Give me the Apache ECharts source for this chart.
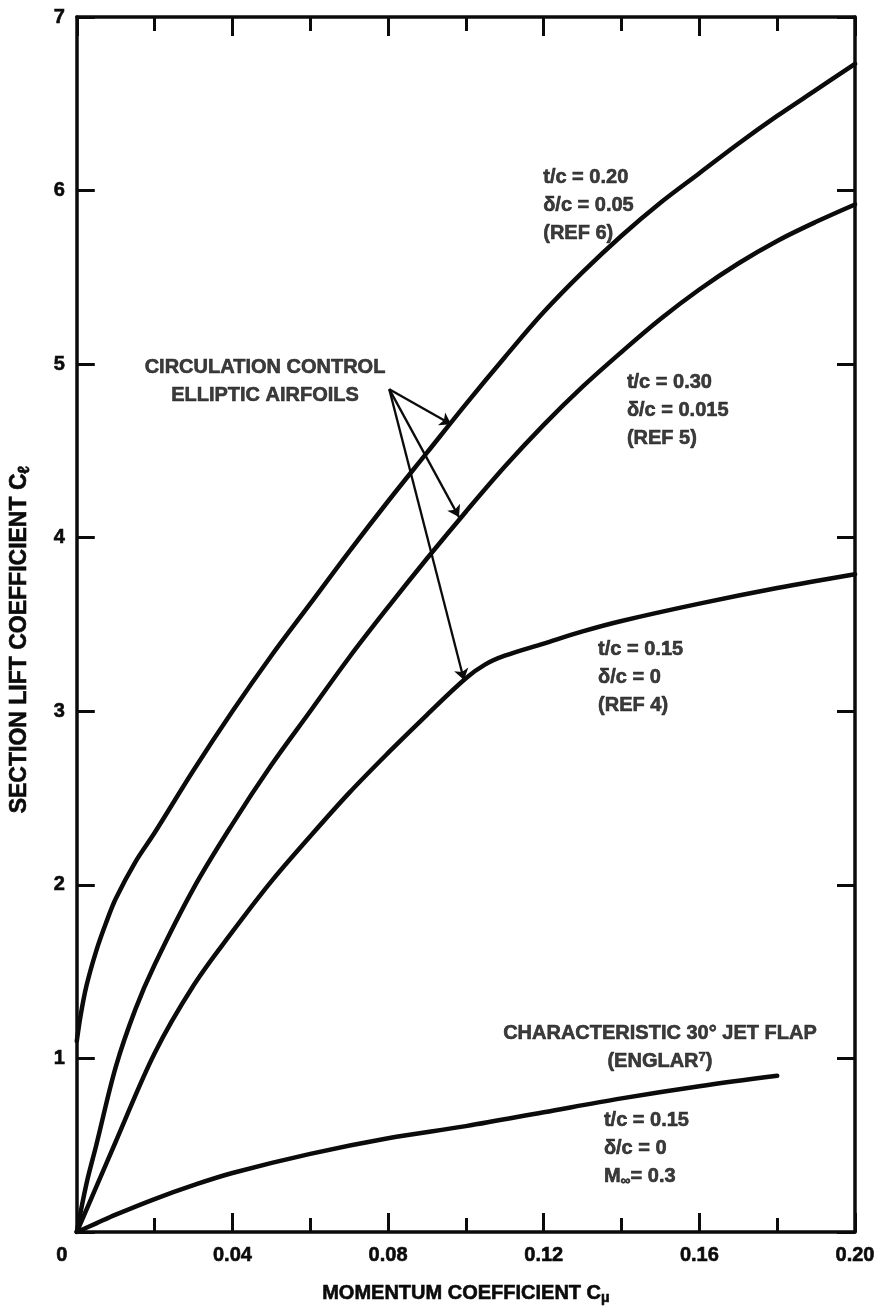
<!DOCTYPE html>
<html>
<head>
<meta charset="utf-8">
<script src="https://cdn.jsdelivr.net/npm/echarts@6/dist/echarts.min.js"></script>
<style>
  html, body { margin: 0; padding: 0; background: #fff; }
  #chart { width: 881px; height: 1314px; }
</style>
</head>
<body>
<div id="chart"></div>
<script>
// Section lift coefficient versus momentum coefficient

// t/c = 0.20, delta/c = 0.05 (REF 6)
const ref6Cmu = [0, 0.001, 0.0025, 0.005, 0.0075, 0.01, 0.015, 0.02, 0.03, 0.04, 0.05, 0.06, 0.07, 0.08, 0.09, 0.10, 0.11, 0.12, 0.13, 0.14, 0.15, 0.16, 0.17, 0.18, 0.19, 0.20];
const ref6Cl  = [1.10, 1.25, 1.42, 1.62, 1.78, 1.92, 2.13, 2.30, 2.66, 3.00, 3.32, 3.62, 3.92, 4.21, 4.49, 4.77, 5.04, 5.30, 5.53, 5.74, 5.93, 6.10, 6.27, 6.43, 6.58, 6.73];

// t/c = 0.30, delta/c = 0.015 (REF 5)
const ref5Cmu = [0, 0.0025, 0.005, 0.01, 0.015, 0.02, 0.03, 0.04, 0.05, 0.06, 0.07, 0.08, 0.09, 0.10, 0.11, 0.12, 0.13, 0.14, 0.15, 0.16, 0.17, 0.18, 0.19, 0.20];
const ref5Cl  = [0, 0.28, 0.50, 0.95, 1.28, 1.54, 1.98, 2.35, 2.69, 3.00, 3.31, 3.60, 3.88, 4.15, 4.41, 4.65, 4.87, 5.07, 5.26, 5.43, 5.58, 5.71, 5.82, 5.92];

// t/c = 0.15, delta/c = 0 (REF 4)
const ref4Cmu = [0, 0.005, 0.01, 0.02, 0.03, 0.04, 0.05, 0.06, 0.07, 0.08, 0.09, 0.10, 0.105, 0.11, 0.12, 0.13, 0.14, 0.16, 0.18, 0.20];
const ref4Cl  = [0, 0.26, 0.52, 1.03, 1.42, 1.73, 2.02, 2.28, 2.53, 2.76, 2.98, 3.19, 3.27, 3.32, 3.39, 3.46, 3.52, 3.62, 3.71, 3.79];

// Characteristic 30 deg jet flap (Englar)
const jetCmu = [0, 0.005, 0.01, 0.02, 0.03, 0.04, 0.06, 0.08, 0.10, 0.12, 0.14, 0.16, 0.18];
const jetCl  = [0, 0.05, 0.10, 0.19, 0.27, 0.34, 0.45, 0.54, 0.61, 0.69, 0.77, 0.84, 0.90];

// Axis ranges and tick steps
const cmuRange = [0, 0.20];
const cmuStep = 0.04;
const clRange = [0, 7];
const clStep = 1;

// Leader arrows: common origin and the curve points they indicate
const arrowOrigin = [0.0803, 4.856];
const arrowTargets = [[0.0962, 4.654], [0.0982, 4.12], [0.0995, 3.18]];

// Text notes anchored in data coordinates
const notes = [
  { at: [0.0485, 4.896], text: 'CIRCULATION CONTROL\nELLIPTIC AIRFOILS', align: 'center' },
  { at: [0.1200, 5.910], text: 't/c = 0.20\nδ/c = 0.05\n(REF 6)', align: 'left' },
  { at: [0.1415, 4.730], text: 't/c = 0.30\nδ/c = 0.015\n(REF 5)', align: 'left' },
  { at: [0.1341, 3.190], text: 't/c = 0.15\nδ/c = 0\n(REF 4)', align: 'left' },
  { at: [0.1500, 1.060], text: 'CHARACTERISTIC 30° JET FLAP\n(ENGLAR{sup|7})', align: 'center' },
  { at: [0.1356, 0.478], text: 't/c = 0.15\nδ/c = 0\nM{sub|∞}= 0.3', align: 'left' }
];

const FONT = '"Liberation Sans", Arial, Helvetica, sans-serif';
const INK = '#0b0b0b';

const pairs = (xs, ys) => xs.map((x, i) => [x, ys[i]]);

// heavier strokes on lettering
const heavy = { textBorderColor: INK, textBorderWidth: 0.6 };

const richStyles = {
  sub: Object.assign({ fontFamily: FONT, fontWeight: 'bold', fontSize: 14, color: INK, padding: [9, 0, 0, 0] }, heavy),
  subL: Object.assign({ fontFamily: FONT, fontWeight: 'bold', fontSize: 16, color: INK, padding: [10, 0, 0, 0] }, heavy),
  sup: Object.assign({ fontFamily: FONT, fontWeight: 'bold', fontSize: 13, color: INK, padding: [0, 0, 9, 0] }, heavy),
  z:   Object.assign({ fontFamily: FONT, fontWeight: 'bold', fontSize: 20, color: INK, padding: [0, 30, 0, 0] }, heavy)
};

function xAxisDef(pos, showLabels) {
  return {
    type: 'value',
    position: pos,
    min: cmuRange[0], max: cmuRange[1], interval: cmuStep,
    axisLine: { show: true, onZero: false, lineStyle: { color: INK, width: 3.5 } },
    axisTick: { show: true, inside: true, length: 19, lineStyle: { color: INK, width: 3 } },
    minorTick: { show: true, splitNumber: 2, length: 14, lineStyle: { color: INK, width: 3 } },
    splitLine: { show: false },
    minorSplitLine: { show: false },
    axisLabel: Object.assign({
      show: showLabels,
      margin: 13,
      fontFamily: FONT, fontWeight: 'bold', fontSize: 20, color: INK,
      formatter: v => (Math.abs(v) < 1e-9 ? '{z|0}' : v.toFixed(2)),
      rich: richStyles
    }, heavy),
    name: showLabels ? 'MOMENTUM COEFFICIENT C{sub|μ}' : '',
    nameLocation: 'middle',
    nameGap: 50,
    nameTextStyle: Object.assign({ fontFamily: FONT, fontWeight: 'bold', fontSize: 20, color: INK, rich: richStyles }, heavy)
  };
}

function yAxisDef(pos, showLabels) {
  return {
    type: 'value',
    position: pos,
    min: clRange[0], max: clRange[1], interval: clStep,
    axisLine: { show: true, onZero: false, lineStyle: { color: INK, width: 3.5 } },
    axisTick: { show: true, inside: true, length: 18, lineStyle: { color: INK, width: 3 } },
    splitLine: { show: false },
    axisLabel: Object.assign({
      show: showLabels,
      margin: 12,
      fontFamily: FONT, fontWeight: 'bold', fontSize: 20, color: INK,
      formatter: v => (v === 0 ? '' : String(v))
    }, heavy),
    name: showLabels ? 'SECTION LIFT COEFFICIENT C{subL|ℓ}' : '',
    nameLocation: 'middle',
    nameRotate: 90,
    nameGap: 44,
    nameTextStyle: Object.assign({
      fontFamily: FONT, fontWeight: 'bold', fontSize: 23, color: INK,
      padding: [0, 30, 0, 0],
      rich: richStyles
    }, heavy)
  };
}

function curve(xs, ys) {
  return {
    type: 'line',
    xAxisIndex: 0, yAxisIndex: 0,
    data: pairs(xs, ys),
    showSymbol: false,
    smooth: 0.35,
    lineStyle: { color: INK, width: 4.5, cap: 'round', join: 'round' },
    z: 3
  };
}

const chart = echarts.init(document.getElementById('chart'), null, { renderer: 'canvas' });

chart.setOption({
  backgroundColor: '#ffffff',
  animation: false,
  grid: { left: 75, right: 26, top: 17, bottom: 82, containLabel: false },
  xAxis: [xAxisDef('bottom', true), xAxisDef('top', false)],
  yAxis: [yAxisDef('left', true), yAxisDef('right', false)],
  series: [
    curve(ref6Cmu, ref6Cl),
    curve(ref5Cmu, ref5Cl),
    curve(ref4Cmu, ref4Cl),
    curve(jetCmu, jetCl),
    {
      type: 'lines',
      coordinateSystem: 'cartesian2d',
      xAxisIndex: 0, yAxisIndex: 0,
      symbol: ['none', 'arrow'],
      symbolSize: 11,
      lineStyle: { color: INK, width: 2.3, opacity: 1, curveness: 0 },
      data: arrowTargets.map(t => ({ coords: [arrowOrigin, t] })),
      z: 4
    },
    {
      type: 'scatter',
      xAxisIndex: 0, yAxisIndex: 0,
      symbolSize: 1,
      itemStyle: { color: 'rgba(0,0,0,0)' },
      silent: true,
      data: notes.map(n => ({
        value: n.at,
        label: Object.assign({
          show: true,
          position: [0, 0],
          align: n.align,
          verticalAlign: 'middle',
          formatter: n.text,
          fontFamily: FONT, fontWeight: 'bold', fontSize: 20, color: INK,
          lineHeight: 28,
          rich: richStyles
        }, heavy)
      })),
      z: 5
    }
  ]
});
</script>
</body>
</html>
